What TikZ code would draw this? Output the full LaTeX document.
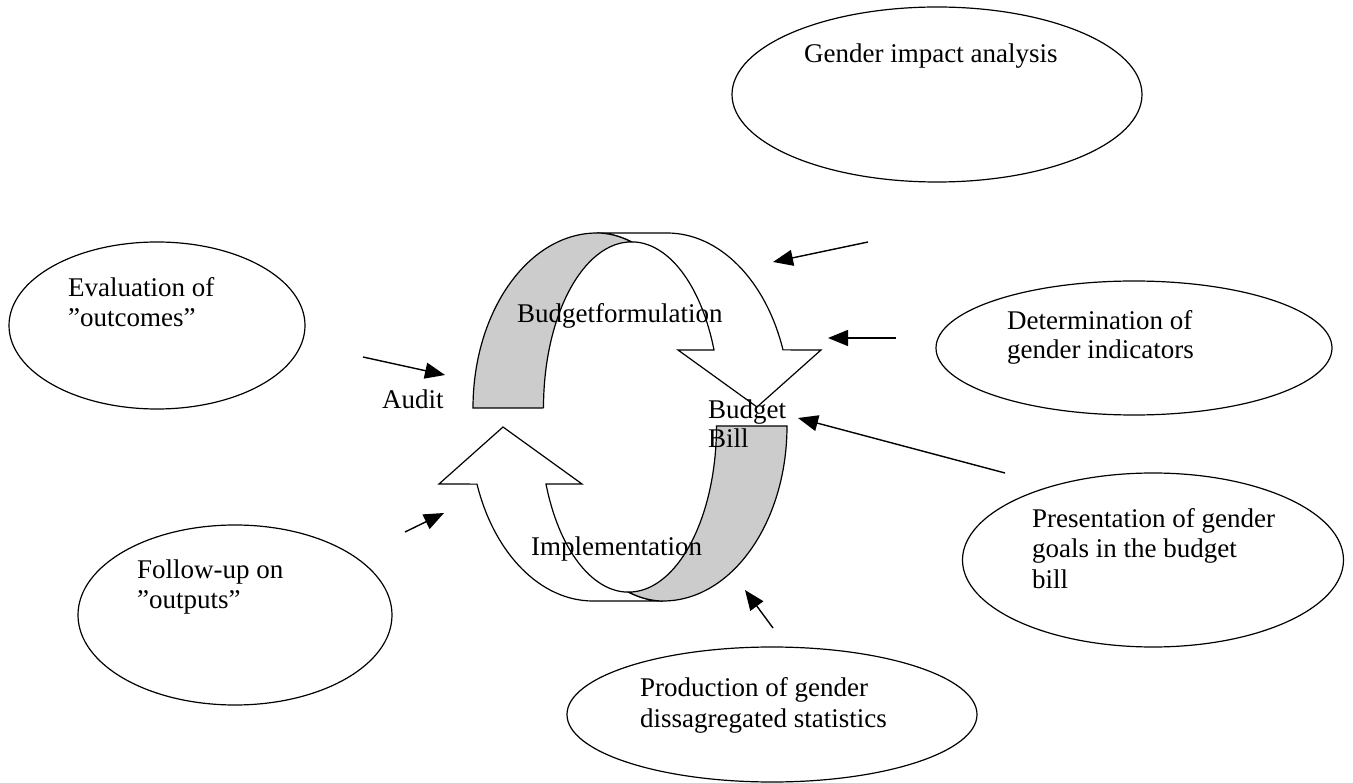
\documentclass[tikz,border=0pt]{standalone}
\usepackage{fontspec}
\setmainfont{Liberation Serif}
\usetikzlibrary{arrows.meta,shapes.geometric}
\begin{document}
\begin{tikzpicture}[x=1pt,y=-1pt,
  oval/.style={draw, ellipse, line width=1.2pt, inner sep=0pt},
  lbl/.style={anchor=base west, inner sep=0pt, font=\fontsize{27}{30}\selectfont},
  conn/.style={line width=1.4pt, -{Triangle[length=20pt,width=16pt]}},
  band/.style={draw, line width=1.2pt, line join=miter},
  back/.style={band, fill=black!20},
  front/.style={band, fill=white}
]
\useasboundingbox (0,0) rectangle (1353,783);

% ellipses
\node[oval, minimum width=410pt, minimum height=175pt] (gia) at (937,94.5) {};
\node[oval, minimum width=296pt, minimum height=167pt] (eval) at (157,325.5) {};
\node[oval, minimum width=396pt, minimum height=134pt] (det) at (1134,348) {};
\node[oval, minimum width=314pt, minimum height=180pt] (fol) at (235,615) {};
\node[oval, minimum width=381pt, minimum height=174pt] (pres) at (1153,560) {};
\node[oval, minimum width=410pt, minimum height=135pt] (prod) at (772,714.5) {};

% cycle arrows
\draw[front] (597,233) -- (667,233)
  arc[start angle=270, end angle=340.6, x radius=123, y radius=175]
  -- (821,350) -- (757,407) -- (678,350) -- (714,350)
  arc[start angle=339.6, end angle=270, x radius=88, y radius=166]
  .. controls (620,236) and (608,233) .. (597,233) -- cycle;
\draw[back] (473,408)
  arc[start angle=180, end angle=270, x radius=124, y radius=175]
  .. controls (608,233) and (620,236) .. (631.5,241.9)
  arc[start angle=270, end angle=180, x radius=88, y radius=166] -- cycle;
\begin{scope}[rotate around={180:(630,417)}]
\draw[front] (597,233) -- (667,233)
  arc[start angle=270, end angle=340.6, x radius=123, y radius=175]
  -- (821,350) -- (757,407) -- (678,350) -- (714,350)
  arc[start angle=339.6, end angle=270, x radius=88, y radius=166]
  .. controls (620,236) and (608,233) .. (597,233) -- cycle;
\draw[back] (473,408)
  arc[start angle=180, end angle=270, x radius=124, y radius=175]
  .. controls (608,233) and (620,236) .. (631.5,241.9)
  arc[start angle=270, end angle=180, x radius=88, y radius=166] -- cycle;
\end{scope}

% texts
\node[lbl] (t1) at (804,63) {Gender impact analysis};
\node[lbl] (t2a) at (68,297) {Evaluation of};
\node[lbl] (t2b) at (68,327) {”outcomes”};
\node[lbl] (t3a) at (1007,330) {Determination of};
\node[lbl] (t3b) at (1007,359) {gender indicators};
\node[lbl] (t4a) at (137,578) {Follow-up on};
\node[lbl] (t4b) at (137,608) {”outputs”};
\node[lbl] (t5a) at (1032,528) {Presentation of gender};
\node[lbl] (t5b) at (1032,558) {goals in the budget};
\node[lbl] (t5c) at (1032,588) {bill};
\node[lbl] (t6a) at (640,696) {Production of gender};
\node[lbl] (t6b) at (640,727) {dissagregated statistics};
\node[lbl] (bf) at (517,323) {Budgetformulation};
\node[lbl] (im) at (531,555) {Implementation};
\node[lbl] (au) at (382,409) {Audit};
\node[lbl] (bb1) at (708,419) {Budget};
\node[lbl] (bb2) at (708,448) {Bill};

% connectors
\coordinate (c1s) at (868,242); \coordinate (c1e) at (773,262);
\coordinate (c2s) at (896,338); \coordinate (c2e) at (828,338);
\coordinate (c3s) at (1005,473); \coordinate (c3e) at (798,418);
\coordinate (c4s) at (773,628); \coordinate (c4e) at (745,590);
\coordinate (c5s) at (363,357); \coordinate (c5e) at (445,375);
\coordinate (c6s) at (405,532); \coordinate (c6e) at (444,513);
\draw[conn] (c1s) -- (c1e);
\draw[conn] (c2s) -- (c2e);
\draw[conn] (c3s) -- (c3e);
\draw[conn] (c4s) -- (c4e);
\draw[conn] (c5s) -- (c5e);
\draw[conn] (c6s) -- (c6e);
\end{tikzpicture}
\end{document}
